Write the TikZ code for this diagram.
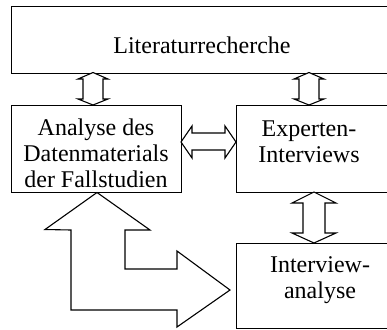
\documentclass[tikz,border=0pt]{standalone}
\usepackage{fontspec}
\setmainfont{Liberation Serif}
\begin{document}
\begin{tikzpicture}[x=1pt,y=-1pt,
  box/.style={draw, line width=1.1pt, inner sep=0pt, anchor=north west},
  txt/.style={inner sep=0pt, align=center, font=\fontsize{24}{26}\selectfont},
  blockarrow/.style={draw, line width=1.1pt, fill=white, line join=miter}]
\useasboundingbox (0,0) rectangle (387,329);
\clip (0,0) rectangle (387,329);
% boxes
\node[box, minimum width=382pt, minimum height=67pt] (lit) at (11,6) {};
\node[box, minimum width=170pt, minimum height=87pt] (ana) at (11,105) {};
\node[box, minimum width=156pt, minimum height=87pt] (exp) at (236,105) {};
\node[box, minimum width=156pt, minimum height=85pt] (int) at (236,243) {};
% texts
\node[txt, anchor=base] (litT) at (202,53) {Literaturrecherche};
\node[txt, anchor=north] (anaT) at (96,118.6) {Analyse des\\Datenmaterials\\der Fallstudien};
\node[txt, anchor=north] (expT) at (309,120.5) {Experten-\\Interviews};
\node[txt, anchor=north] (intT) at (320,256.5) {Interview-\\analyse};
% lit <-> ana
\draw[blockarrow] (93,72.5) -- (108,79) -- (103,79) -- (103,99) -- (108,99) -- (93,105)
  -- (78,99) -- (83,99) -- (83,79) -- (78,79) -- cycle;
% lit <-> exp
\draw[blockarrow] (309,72.5) -- (324,79) -- (319,79) -- (319,99) -- (324,99) -- (309,105)
  -- (294,99) -- (299,99) -- (299,79) -- (294,79) -- cycle;
% exp <-> int
\draw[blockarrow] (314,192) -- (336,203) -- (325,203) -- (325,233) -- (336,233) -- (314,243)
  -- (292,233) -- (303,233) -- (303,203) -- (292,203) -- cycle;
% ana <-> exp
\draw[blockarrow] (181,142) -- (192,126) -- (192,133) -- (225,133) -- (225,126) -- (236,142)
  -- (225,158) -- (225,150) -- (192,150) -- (192,158) -- cycle;
% ana <-> int (L-shaped)
\draw[blockarrow] (97,192.5) -- (150,230) -- (125,230) -- (125,269) -- (177,269) -- (177,251)
  -- (230,290) -- (177,327) -- (177,310) -- (71,310) -- (71,230) -- (45,229.5) -- cycle;
\end{tikzpicture}
\end{document}
